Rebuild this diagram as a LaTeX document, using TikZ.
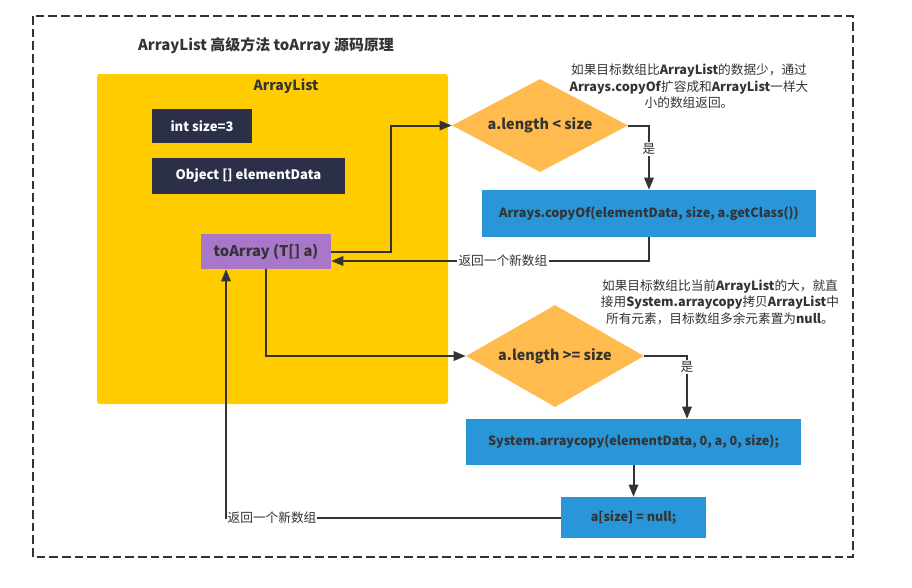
\documentclass[tikz,border=0pt]{standalone}
\usepackage{fontspec}
\setmainfont{Noto Sans CJK SC}
\usetikzlibrary{calc,positioning,arrows.meta,shapes.geometric}
\definecolor{ink}{HTML}{333333}
\definecolor{alyellow}{HTML}{FFCC00}
\definecolor{fieldnavy}{HTML}{2B2F47}
\definecolor{methpurple}{HTML}{A977CA}
\definecolor{condorange}{HTML}{FFBB4D}
\definecolor{stepblue}{HTML}{2896D8}
\newlength{\unitpx}
\setlength{\unitpx}{0.75pt}

\begin{document}
\begin{tikzpicture}[x=0.75pt,y=-0.75pt]
\tikzset{
  clsbox/.style={fill=alyellow,rounded corners=2pt,inner sep=0pt},
  fbox/.style={fill=fieldnavy,text=white,inner sep=0pt,font=\bfseries\fontsize{9.8}{12}\selectfont},
  mbox/.style={fill=methpurple,text=ink,inner sep=0pt,font=\bfseries\fontsize{11}{13}\selectfont},
  cbox/.style={diamond,fill=condorange,text=ink,inner sep=0pt,font=\bfseries\fontsize{10.8}{13}\selectfont},
  sbox/.style={fill=stepblue,text=ink,inner sep=0pt,font=\bfseries\fontsize{9.5}{11}\selectfont},
  note/.style={text=ink,align=center,font=\fontsize{9.5}{12.4}\selectfont},
  lbl/.style={fill=white,text=ink,inner sep=1pt,font=\fontsize{9.5}{11}\selectfont},
  flow/.style={draw=ink,line width=1.5pt,-{Triangle[length=9pt,width=7pt]}}
}
\useasboundingbox (0,0) rectangle (912,587);
\draw[ink,line width=1.2pt,dash pattern=on 6.5pt off 3pt] (33,16) rectangle (853,557);
\node[text=ink,font=\bfseries\fontsize{11.2}{13}\selectfont] (title) at (266,46) {ArrayList 高级方法 toArray 源码原理};

\node[clsbox,minimum width=351\unitpx,minimum height=330\unitpx] (al) at (272.5,239) {};
\node[text=ink,font=\bfseries\fontsize{10.5}{12}\selectfont] (altitle) at (286,86) {ArrayList};
\node[fbox,minimum width=100\unitpx,minimum height=34\unitpx] (sz) at (202,126) {int size=3};
\node[fbox,minimum width=193\unitpx,minimum height=36\unitpx] (data) at (248.5,176) {Object [] elementData};
\node[mbox,minimum width=130\unitpx,minimum height=35\unitpx] (toarr) at (266,251.5) {toArray (T[] a)};

\node[cbox,aspect=1.9,minimum width=176\unitpx,minimum height=93\unitpx] (lt) at (540,125.5) {a.length < size};
\node[sbox,minimum width=334\unitpx,minimum height=47\unitpx] (copyof) at (649,213.5) {Arrays.copyOf(elementData, size, a.getClass())};
\node[cbox,aspect=1.75,minimum width=178\unitpx,minimum height=102\unitpx] (ge) at (555,356) {a.length >= size};
\node[sbox,minimum width=335\unitpx,minimum height=46\unitpx] (syscp) at (633.5,442) {System.arraycopy(elementData, 0, a, 0, size);};
\node[sbox,minimum width=145\unitpx,minimum height=41\unitpx] (nul) at (633.5,517.5) {a[size] = null;};

\node[note] (ltnote) at (689,86.5) {如果目标数组比\textbf{ArrayList}的数据少，通过\\\textbf{Arrays.copyOf}扩容成和\textbf{ArrayList}一样大\\小的数组返回。};
\node[note] (genote) at (720,302) {如果目标数组比当前\textbf{ArrayList}的大，就直\\接用\textbf{System.arraycopy}拷贝\textbf{ArrayList}中\\所有元素，目标数组多余元素置为\textbf{null}。};

\draw[flow] (toarr.east) -- ++(60,0) |- (lt.west);
\draw[flow] (lt.east) -| node[lbl,pos=0.68] {是} (copyof.north);
\draw[flow] (copyof.south) |- node[lbl,pos=0.73] {返回一个新数组} ($(toarr.east)+(0,9.5)$);
\draw[flow] (toarr.south) |- (ge.west);
\draw[flow] (ge.east) -| node[lbl,pos=0.59] {是} ($(syscp.north)+(53.5,0)$);
\draw[flow] (syscp.south) -- (nul.north);
\draw[flow] (nul.west) -| node[lbl,pos=0.5,anchor=west,inner sep=0.5pt] {返回一个新数组} ($(toarr.south)+(-40,0)$);
\end{tikzpicture}
\end{document}
